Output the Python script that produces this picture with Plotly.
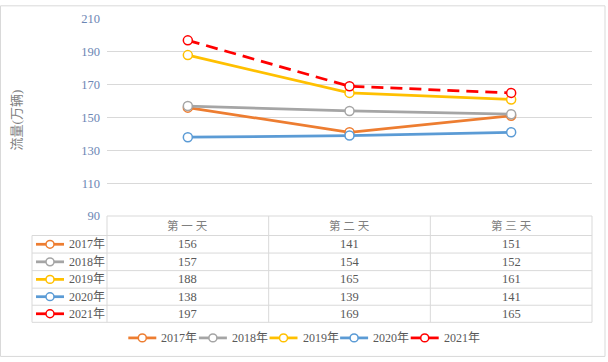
import plotly.graph_objects as go

days = ["第一天", "第二天", "第三天"]
years = ["2017年", "2018年", "2019年", "2020年", "2021年"]
v2017 = [156, 141, 151]
v2018 = [157, 154, 152]
v2019 = [188, 165, 161]
v2020 = [138, 139, 141]
v2021 = [197, 169, 165]
series = [v2017, v2018, v2019, v2020, v2021]
colors = ["#ED7D31", "#A5A5A5", "#FFC000", "#5B9BD5", "#FF0000"]
dashes = ["solid", "solid", "solid", "solid", "12px,7px"]
yticks = [90, 110, 130, 150, 170, 190, 210]

W, H = 608, 362
L, R, T, B = 107, 592, 14, 216
PW, PH = R - L, B - T

def px(x):
    return (x - L) / PW

def py(y):
    return (B - y) / PH

FONT = "Liberation Serif, Noto Sans CJK SC, serif"
TXT = "#595959"
GRID = "#D9D9D9"

fig = go.Figure()
for name, vals, c, d in zip(years, series, colors, dashes):
    fig.add_trace(go.Scatter(
        x=list(range(len(days))), y=vals, name=name, mode="lines+markers",
        line=dict(color=c, width=2.75, dash=d),
        marker=dict(symbol="circle", size=9, color="white", line=dict(color=c, width=1.5)),
        hoverinfo="skip", cliponaxis=False, showlegend=False,
    ))

shapes = []
annotations = []

ncol = len(days)
colw = PW / ncol
left_x = 32
row_edges = [216, 236, 254, 272, 290, 307.5, 325]
col_edges = [L + i * colw for i in range(ncol + 1)]

def hline(x0, x1, y):
    shapes.append(dict(type="line", xref="paper", yref="paper", x0=px(x0), x1=px(x1),
                       y0=py(y), y1=py(y), line=dict(color=GRID, width=1), layer="below"))

def vline(x, y0, y1):
    shapes.append(dict(type="line", xref="paper", yref="paper", x0=px(x), x1=px(x),
                       y0=py(y0), y1=py(y1), line=dict(color=GRID, width=1), layer="below"))

def key(x0, yc, c, d):
    shapes.append(dict(type="line", xref="paper", yref="paper", x0=px(x0), x1=px(x0 + 28),
                       y0=py(yc), y1=py(yc), line=dict(color=c, width=2.75)))
    shapes.append(dict(type="circle", xref="paper", yref="paper", x0=px(x0 + 10), x1=px(x0 + 18),
                       y0=py(yc + 4), y1=py(yc - 4), fillcolor="white", line=dict(color=c, width=1.5)))

hline(L, R, row_edges[0])
for y in row_edges[1:]:
    hline(left_x, R, y)
for x in col_edges:
    vline(x, row_edges[0], row_edges[-1])
vline(left_x, row_edges[1], row_edges[-1])

for i, d in enumerate(days):
    annotations.append(dict(xref="paper", yref="paper", x=px(L + (i + 0.5) * colw),
                            y=py((row_edges[0] + row_edges[1]) / 2), text=" ".join(d), showarrow=False,
                            font=dict(family=FONT, size=11.5, color="#7F7F7F"), xanchor="center", yanchor="middle"))

for r, (name, vals, c, d) in enumerate(zip(years, series, colors, dashes)):
    yc = (row_edges[r + 1] + row_edges[r + 2]) / 2
    key(36, yc, c, d)
    annotations.append(dict(xref="paper", yref="paper", x=px(67), y=py(yc), text=name,
                            showarrow=False, font=dict(family=FONT, size=12, color=TXT),
                            xanchor="left", yanchor="middle"))
    for i, v in enumerate(vals):
        annotations.append(dict(xref="paper", yref="paper", x=px(L + (i + 0.5) * colw), y=py(yc),
                                text=str(v), showarrow=False,
                                font=dict(family=FONT, size=12.5, color=TXT),
                                xanchor="center", yanchor="middle"))

# bottom legend
leg_y = 341
for k, (name, c, d) in enumerate(zip(years, colors, dashes)):
    x0 = 128.3 + k * 70.6
    key(x0, leg_y, c, d)
    annotations.append(dict(xref="paper", yref="paper", x=px(x0 + 31), y=py(leg_y), text=name,
                            showarrow=False, font=dict(family=FONT, size=12, color=TXT),
                            xanchor="left", yanchor="middle"))

annotations.append(dict(xref="paper", yref="paper", x=px(16), y=py(118), text="流量(万辆)",
                        textangle=-90, showarrow=False,
                        font=dict(family=FONT, size=13, color="#7F7F7F"), xanchor="center", yanchor="middle"))

shapes.append(dict(type="rect", xref="paper", yref="paper", x0=px(0.5), x1=px(605),
                   y0=py(0.5), y1=py(360), line=dict(color=GRID, width=1), layer="below"))

fig.update_layout(
    width=W, height=H,
    margin=dict(l=L, r=W - R, t=T, b=H - B, pad=0),
    paper_bgcolor="white", plot_bgcolor="white",
    font=dict(family=FONT, color=TXT, size=12),
    xaxis=dict(range=[-0.5, ncol - 0.5], showticklabels=False, showgrid=False,
               zeroline=False, showline=False, fixedrange=True),
    yaxis=dict(range=[90, 210], tickvals=yticks, showgrid=True, gridcolor=GRID, gridwidth=1,
               zeroline=False, showline=False, ticks="", ticklabelstandoff=6,
               tickfont=dict(family=FONT, size=12.5, color="#6B86B4"), fixedrange=True),
    showlegend=False,
    shapes=shapes, annotations=annotations,
)

fig.write_html("out.html", config={"displayModeBar": False},
               post_script="document.body.style.margin='0px';document.body.style.overflow='hidden';")
